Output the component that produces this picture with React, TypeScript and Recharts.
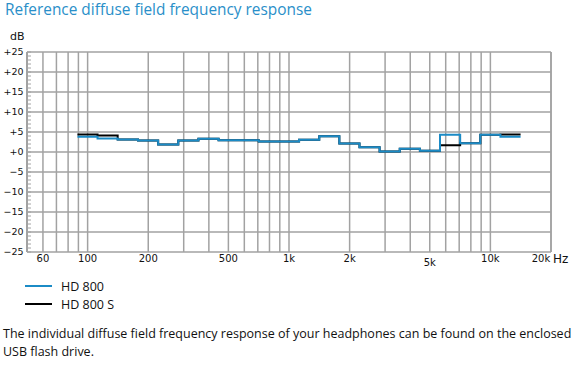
import React from 'react';
import { LineChart, Line, XAxis, YAxis, CartesianGrid, ReferenceLine, Legend } from 'recharts';

// 1/3-octave band edges (Hz); each value holds from its edge to the next one
const BAND_EDGES_HZ = [89, 112, 141, 178, 224, 282, 355, 447, 562, 708, 891, 1122, 1413, 1778, 2239, 2818, 3548, 4467, 5623, 7079, 8913, 11220, 14125];
const HD800_DB = [3.8, 3.4, 3.1, 2.9, 1.9, 2.9, 3.3, 2.95, 2.95, 2.6, 2.6, 3.05, 3.95, 2.1, 1.2, 0.1, 0.8, 0.3, 4.3, 2.2, 4.3, 3.8, 3.8];
const HD800S_DB = [4.4, 4.1, 3.1, 2.9, 1.9, 2.9, 3.3, 2.95, 2.95, 2.6, 2.6, 3.05, 3.95, 2.1, 1.2, 0.1, 0.8, 0.3, 1.7, 2.2, 4.3, 4.4, 4.4];

const X_GRID_HZ = [60, 70, 80, 90, 100, 200, 300, 400, 500, 600, 700, 800, 900, 1000, 2000, 3000, 4000, 5000, 6000, 7000, 8000, 9000, 10000, 20000];
const X_LABEL_HZ = [60, 100, 200, 500, 1000, 2000, 5000, 10000, 20000];
const X_LABEL_TEXT = ['60', '100', '200', '500', '1k', '2k', '5k', '10k', '20k'];

const Y_MINOR_DB = [-25, -24, -23, -22, -21, -20, -19, -18, -17, -16, -15, -14, -13, -12, -11, -10, -9, -8, -7, -6, -5, -4, -3, -2, -1, 0, 1, 2, 3, 4, 5, 6, 7, 8, 9, 10, 11, 12, 13, 14, 15, 16, 17, 18, 19, 20, 21, 22, 23, 24, 25];
const Y_MAJOR_DB = [-25, -20, -15, -10, -5, 0, 5, 10, 15, 20, 25];
const Y_LABEL_TEXT = ['\u221225', '\u221220', '\u221215', '\u221210', '\u22125', '+0', '+5', '+10', '+15', '+20', '+25'];

const SERIES_NAMES = ['HD 800', 'HD 800 S'];
const BLUE = '#1b8bc6';
const GRID = '#a2a2a2';

const data = BAND_EDGES_HZ.map((f, i) => ({ f, hd800: HD800_DB[i], hd800s: HD800S_DB[i] }));

const tickFont = { fontFamily: '"DejaVu Sans", Verdana, sans-serif', fill: '#111' };

const XTick = (props: any) => {
  const { x, y, payload } = props;
  const idx = X_LABEL_HZ.indexOf(payload.value);
  if (idx < 0) return <g />;
  const txt = X_LABEL_TEXT[idx];
  const dx = txt === '20k' ? -10 : 0;
  const dy = txt === '5k' ? 4 : 0;
  return (
    <text x={x + dx} y={y + dy} dy="0.71em" textAnchor="middle" fontSize={10} {...tickFont}>
      {txt}
    </text>
  );
};

const YTick = (props: any) => {
  const { x, y, payload } = props;
  const idx = Y_MAJOR_DB.indexOf(payload.value);
  return (
    <g>
      <line x1={x + 3.5} x2={x + 7.5} y1={y} y2={y} stroke={GRID} strokeWidth={1} />
      {idx >= 0 && (
        <text x={x} y={y} dy="0.35em" textAnchor="end" fontSize={9.5} {...tickFont}>
          {Y_LABEL_TEXT[idx]}
        </text>
      )}
    </g>
  );
};

const LegendContent = (props: any) => {
  const items = [...(props.payload || [])].sort((a: any, b: any) => String(a.value).localeCompare(String(b.value)));
  return (
    <div style={{ fontFamily: '"Open Sans", "Noto Sans", sans-serif', fontSize: 12.5, color: '#111', textAlign: 'left' }}>
      {items.map((it: any) => (
        <div key={it.value} style={{ display: 'flex', alignItems: 'center', height: 18 }}>
          <svg width={39} height={18}>
            <line x1={3} x2={30} y1={9} y2={9} stroke={it.color} strokeWidth={2} />
          </svg>
          <span>{it.value}</span>
        </div>
      ))}
    </div>
  );
};

export default function App() {
  return (
    <div style={{ position: 'relative', width: 575, height: 367, background: '#fff', overflow: 'hidden' }}>
      <style>{'body{margin:0;background:#fff}'}</style>
      <div style={{ position: 'absolute', left: 5, top: -1, fontFamily: '"Open Sans", sans-serif', fontSize: 15.4, color: '#2a8fc9', whiteSpace: 'nowrap' }}>
        Reference diffuse field frequency response
      </div>
      <div style={{ position: 'absolute', left: 10, top: 30, fontFamily: '"DejaVu Sans", sans-serif', fontSize: 11, color: '#111' }}>dB</div>
      <div style={{ position: 'absolute', left: 553, top: 252, fontFamily: '"DejaVu Sans", sans-serif', fontSize: 12, color: '#111' }}>Hz</div>
      <div style={{ position: 'absolute', left: 0, top: 0 }}>
        <LineChart width={575} height={367} data={data} margin={{ top: 52, right: 24, left: 0, bottom: 84 }}>
          <CartesianGrid horizontal={false} vertical stroke={GRID} strokeWidth={1.5} />
          <XAxis
            dataKey="f"
            type="number"
            scale="log"
            domain={[50, 20000]}
            ticks={X_GRID_HZ}
            interval={0}
            axisLine={false}
            tickLine={false}
            tickSize={0}
            tickMargin={3}
            height={31}
            tick={<XTick />}
            allowDataOverflow
          />
          <YAxis
            type="number"
            domain={[-25, 25]}
            ticks={Y_MINOR_DB}
            interval={0}
            axisLine={false}
            tickLine={false}
            tickSize={0}
            tickMargin={3.5}
            width={27}
            tick={<YTick />}
            allowDataOverflow
          />
          {Y_MAJOR_DB.map((v) => (
            <ReferenceLine key={'h' + v} y={v} stroke={GRID} strokeWidth={1.5} />
          ))}
          <ReferenceLine x={50} stroke={GRID} strokeWidth={2} />
          <ReferenceLine x={20000} stroke={GRID} strokeWidth={1.5} />
          <Line type="stepAfter" dataKey="hd800s" name={SERIES_NAMES[1]} stroke="#000" strokeWidth={2} dot={false} activeDot={false} isAnimationActive={false} />
          <Line type="stepAfter" dataKey="hd800" name={SERIES_NAMES[0]} stroke={BLUE} strokeWidth={2} dot={false} activeDot={false} isAnimationActive={false} />
          <Legend
            layout="vertical"
            align="center"
            verticalAlign="middle"
            content={<LegendContent />}
            wrapperStyle={{ position: 'absolute', left: 22, top: 277, width: 200, height: 40 }}
          />
        </LineChart>
      </div>
      <div style={{ position: 'absolute', left: 3, top: 325, width: 572, fontFamily: '"Open Sans", sans-serif', fontSize: 12.5, lineHeight: '18px', color: '#111' }}>
        The individual diffuse field frequency response of your headphones can be found on the enclosed USB flash drive.
      </div>
    </div>
  );
}
